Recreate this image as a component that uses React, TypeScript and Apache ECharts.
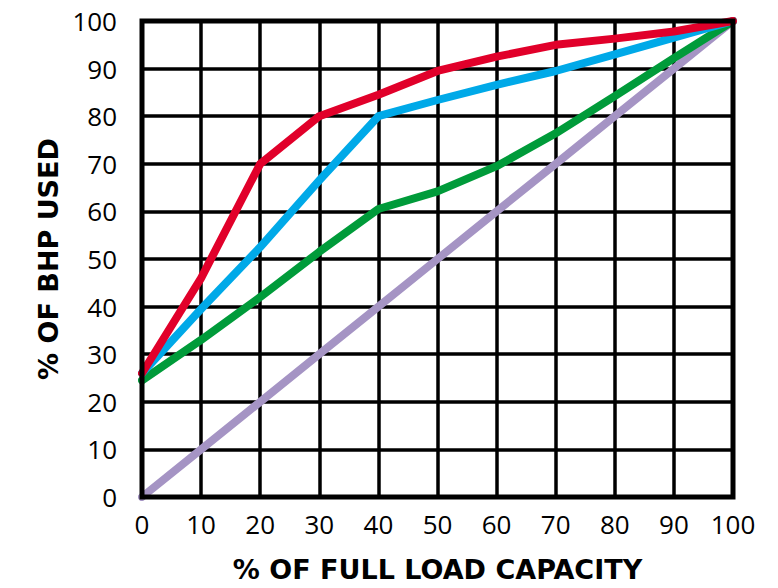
import React, { useEffect, useRef } from "react";
import * as echarts from "echarts";

const xTicks = [0, 10, 20, 30, 40, 50, 60, 70, 80, 90, 100];
const redSeries = [26, 46, 70, 80, 84.5, 89.5, 92.5, 95, 96.3, 97.8, 100];
const blueSeries = [26, 39.5, 52.5, 66.5, 80, 83.4, 86.6, 89.5, 93, 96.5, 100];
const greenSeries = [24.5, 33, 42, 51.5, 60.5, 64.2, 69.5, 76.4, 84.2, 92.2, 100];
const purpleSeries = [0, 10, 20, 30, 40, 50, 60, 70, 80, 90, 100];

const xName = "% OF FULL LOAD CAPACITY";
const yName = "% OF BHP USED";

export default function App() {
  const ref = useRef<HTMLDivElement>(null);
  useEffect(() => {
    document.body.style.margin = "0";
    if (!ref.current) return;
    const chart = echarts.init(ref.current, undefined, { renderer: "svg" });
    const mk = (name: string, data: number[], color: string) => ({
      name,
      type: "line",
      data: xTicks.map((x, i) => [x, data[i]]),
      showSymbol: false,
      symbol: "none",
      lineStyle: { color, width: 8, join: "round", cap: "round" },
      clip: true,
      z: 3,
    });
    const titleStyle = {
      fontFamily: "DejaVu Sans",
      fontWeight: "bold",
      fontSize: 27,
      color: "#000",
    };
    chart.setOption({
      animation: false,
      backgroundColor: "#fff",
      grid: {
        left: 142,
        right: 45,
        top: 21,
        bottom: 91,
        show: true,
        borderColor: "#000",
        borderWidth: 5,
        backgroundColor: "transparent",
        z: 4,
      },
      xAxis: {
        type: "value",
        min: 0,
        max: 100,
        interval: 10,
        name: xName,
        nameLocation: "middle",
        nameGap: 59,
        nameTextStyle: titleStyle,
        axisLine: { show: false },
        axisTick: { show: false },
        axisLabel: {
          fontFamily: "Open Sans",
          fontSize: 26,
          color: "#000",
          margin: 14,
        },
        splitLine: { show: true, lineStyle: { color: "#000", width: 3.5 } },
      },
      yAxis: {
        type: "value",
        min: 0,
        max: 100,
        interval: 10,
        name: yName,
        nameLocation: "middle",
        nameGap: 79,
        nameRotate: 90,
        nameTextStyle: titleStyle,
        axisLine: { show: false },
        axisTick: { show: false },
        axisLabel: {
          fontFamily: "Open Sans",
          fontSize: 26,
          color: "#000",
          margin: 25,
        },
        splitLine: { show: true, lineStyle: { color: "#000", width: 3.5 } },
      },
      series: [
        mk("purple", purpleSeries, "#A594C4"),
        mk("green", greenSeries, "#009B3A"),
        mk("blue", blueSeries, "#00A9E8"),
        mk("red", redSeries, "#E1002A"),
      ],
    });
    return () => chart.dispose();
  }, []);
  return <div ref={ref} style={{ width: 778, height: 588 }} />;
}
